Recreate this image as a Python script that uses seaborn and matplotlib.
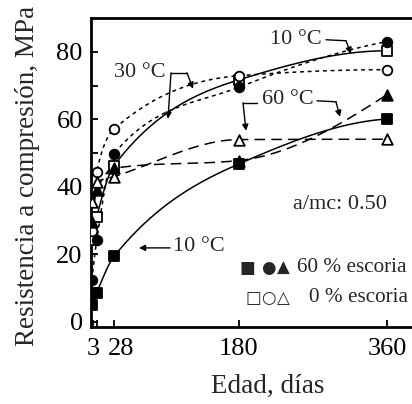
import numpy as np
import pandas as pd
import matplotlib
matplotlib.use("Agg")
import matplotlib.pyplot as plt
import matplotlib.transforms as mtransforms
import seaborn as sns

# ---------------- data ----------------
age_sq60 = [1, 7, 28, 180, 360]
val_sq60 = [5.0, 8.7, 19.4, 46.8, 60.1]      # 10 C, 60 % escoria
age_sq0 = [1, 7, 28, 180, 360]
val_sq0 = [24.3, 31.2, 46.3, 71.7, 80.3]      # 10 C, 0 % escoria
age_ci60 = [1, 7, 28, 180, 360]
val_ci60 = [12.4, 24.3, 49.8, 69.5, 83.0]     # 30 C, 60 % escoria
age_ci0 = [1, 7, 28, 180, 360]
val_ci0 = [27.0, 44.5, 57.1, 72.9, 74.7]      # 30 C, 0 % escoria
age_tr60 = [1, 7, 28, 180, 360]
val_tr60 = [29.7, 39.0, 45.5, 47.8, 67.3]     # 60 C, 60 % escoria
age_tr0 = [1, 7, 28, 180, 360]
val_tr0 = [35.6, 41.3, 43.0, 54.0, 54.1]      # 60 C, 0 % escoria

x_ticks = [3, 7, 28, 180, 360]
x_ticklabels = ["3", "", "28", "180", "360"]
y_ticks = [0, 10, 20, 30, 40, 50, 60, 70, 80]
y_ticklabels = ["0", "", "20", "", "40", "", "60", "", "80"]


def pchip(x, y, xn):
    x = np.asarray(x, float); y = np.asarray(y, float)
    h = np.diff(x); d = np.diff(y) / h
    n = len(x); m = np.zeros(n)
    for k in range(1, n - 1):
        if d[k - 1] * d[k] <= 0:
            m[k] = 0
        else:
            w1 = 2 * h[k] + h[k - 1]; w2 = h[k] + 2 * h[k - 1]
            m[k] = (w1 + w2) / (w1 / d[k - 1] + w2 / d[k])
    def end(h0, h1, d0, d1):
        v = ((2 * h0 + h1) * d0 - h0 * d1) / (h0 + h1)
        if np.sign(v) != np.sign(d0):
            v = 0
        elif np.sign(d0) != np.sign(d1) and abs(v) > abs(3 * d0):
            v = 3 * d0
        return v
    m[0] = end(h[0], h[1], d[0], d[1])
    m[-1] = end(h[-1], h[-2], d[-1], d[-2])
    idx = np.clip(np.searchsorted(x, xn) - 1, 0, n - 2)
    t = (xn - x[idx]) / h[idx]
    h00 = 2 * t**3 - 3 * t**2 + 1; h10 = t**3 - 2 * t**2 + t
    h01 = -2 * t**3 + 3 * t**2; h11 = t**3 - t**2
    return h00 * y[idx] + h10 * h[idx] * m[idx] + h01 * y[idx + 1] + h11 * h[idx] * m[idx + 1]


sns.set_theme(style="ticks")
plt.rcParams["font.family"] = ["Liberation Serif", "DejaVu Sans"]

fig = plt.figure(figsize=(4.12, 4.04), dpi=100)
W, H = 412, 404
ax_left, ax_bottom, ax_top = 91, 327, 18
xmax = 400
ax_w = xmax * 0.822
ax = fig.add_axes([ax_left / W, 1 - ax_bottom / H, ax_w / W, (ax_bottom - ax_top) / H])

series = [
    (age_sq60, val_sq60, "s", True, "-"),
    (age_sq0, val_sq0, "s", False, "-"),
    (age_ci60, val_ci60, "o", True, (0, (2.5, 2.5))),
    (age_ci0, val_ci0, "o", False, (0, (2.5, 2.5))),
    (age_tr60, val_tr60, "^", True, (0, (7, 4))),
    (age_tr0, val_tr0, "^", False, (0, (7, 4))),
]

for ages, vals, mk, filled, ls in series:
    xs = np.linspace(ages[0], ages[-1], 400)
    df_line = pd.DataFrame({"age": xs, "val": pchip(ages, vals, xs)})
    sns.lineplot(data=df_line, x="age", y="val", ax=ax, color="black",
                 linewidth=1.1, linestyle=ls, sort=False, estimator=None)
for ages, vals, mk, filled, ls in series:
    df_pts = pd.DataFrame({"age": ages, "val": vals})
    sns.scatterplot(data=df_pts, x="age", y="val", ax=ax, marker=mk,
                    s=48 if mk != "^" else 58,
                    facecolor="black" if filled else "white",
                    edgecolor="black", linewidth=1.3, zorder=5)

ax.set_xlim(0, xmax)
ax.set_ylim(-1.5, 90)
ax.set_xticks(x_ticks)
ax.set_xticklabels(x_ticklabels)
ax.set_yticks(y_ticks)
ax.set_yticklabels(y_ticklabels)
ax.set_xlabel(""); ax.set_ylabel("")
ax.tick_params(direction="in", length=5, width=1.3, labelsize=19, colors="black")
ax.tick_params(axis="x", pad=8)
ax.tick_params(axis="y", pad=6)
for lab in ax.get_xticklabels():
    if lab.get_text() == "28":
        lab.set_transform(lab.get_transform() + mtransforms.ScaledTranslation(7 / 100, 0, fig.dpi_scale_trans))
for sp in ax.spines.values():
    sp.set_linewidth(2.0)
    sp.set_color("black")
ax.grid(False)

fig.text(28 / W, 1 - 176 / H, "Resistencia a compresión, MPa", rotation=90,
         ha="center", va="center", fontsize=19.5)
fig.text(268 / W, 1 - 386 / H, "Edad, días", ha="center", va="center", fontsize=19.5)

def px(xp, yp):
    return ((xp - ax_left) / 0.822, (322 - yp) / 3.375)

afs = 16
lfs = 15.3
arrow_kw = dict(arrowstyle="-|>", color="black", lw=1.0, mutation_scale=9, shrinkA=0, shrinkB=0)

# 10 C top
ax.text(*px(296, 40), "10 °C", ha="center", va="center", fontsize=afs)
ax.plot(*zip(px(326, 40), px(346, 41)), color="black", lw=1.0)
ax.annotate("", xy=px(351, 54), xytext=px(346, 41), arrowprops=arrow_kw)
# 30 C
ax.text(*px(140, 73), "30 °C", ha="center", va="center", fontsize=afs)
ax.plot(*zip(px(171, 73), px(187, 73)), color="black", lw=1.0)
ax.annotate("", xy=px(168, 119), xytext=px(171, 73), arrowprops=arrow_kw)
ax.annotate("", xy=px(193, 89), xytext=px(187, 73), arrowprops=arrow_kw)
# 60 C
ax.text(*px(288, 100), "60 °C", ha="center", va="center", fontsize=afs)
ax.plot(*zip(px(257, 103), px(243, 103)), color="black", lw=1.0)
ax.annotate("", xy=px(246, 131), xytext=px(243, 103), arrowprops=arrow_kw)
ax.plot(*zip(px(317, 101), px(336, 102)), color="black", lw=1.0)
ax.annotate("", xy=px(340, 117), xytext=px(336, 102), arrowprops=arrow_kw)
# 10 C bottom
ax.text(*px(173, 247), "10 °C", ha="left", va="center", fontsize=afs)
ax.annotate("", xy=px(139, 248), xytext=px(170, 248), arrowprops=arrow_kw)
# a/mc
ax.text(*px(340, 205), "a/mc: 0.50", ha="center", va="center", fontsize=afs)
# legend rows
for g, gx in zip(["■", "●", "▲"], [247, 268, 283]):
    ax.text(*px(gx, 268), g, ha="center", va="center", fontsize=12,
            family=["DejaVu Sans"])
ax.text(*px(297, 268), "60 % escoria", ha="left", va="center", fontsize=lfs)
for g, gx in zip(["□", "○", "△"], [253, 268, 283]):
    ax.text(*px(gx, 298), g, ha="center", va="center", fontsize=12,
            family=["DejaVu Sans"])
ax.text(*px(309, 298), "0 % escoria", ha="left", va="center", fontsize=lfs)

fig.savefig("out.png", dpi=100)
